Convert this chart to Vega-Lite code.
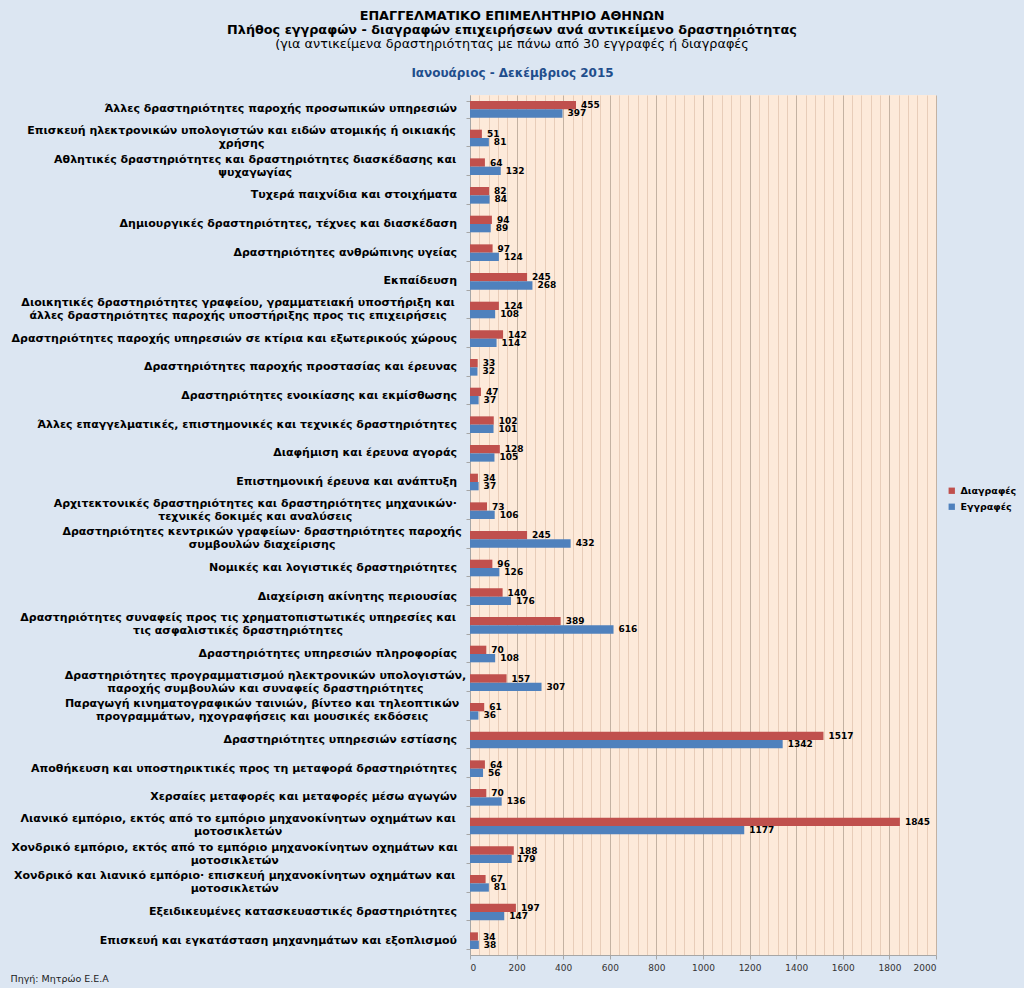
{
  "$schema": "https://vega.github.io/schema/vega-lite/v6.json",
  "width": 466,
  "height": 860,
  "autosize": {"type": "none"},
  "padding": {"left": 470, "top": 95, "right": 88, "bottom": 33},
  "background": "#dce6f2",
  "title": {
    "text": ["ΕΠΑΓΓΕΛΜΑΤΙΚΟ ΕΠΙΜΕΛΗΤΗΡΙΟ ΑΘΗΝΩΝ", "Πλήθος εγγραφών - διαγραφών επιχειρήσεων ανά αντικείμενο δραστηριότητας"],
    "subtitle": "(για αντικείμενα δραστηριότητας με πάνω από 30 εγγραφές ή διαγραφές",
    "anchor": "middle",
    "dx": -191,
    "offset": 15,
    "font": "DejaVu Sans",
    "fontSize": 12.8,
    "fontWeight": "bold",
    "color": "#000000",
    "lineHeight": 14.5,
    "subtitleFont": "DejaVu Sans",
    "subtitleFontSize": 12.8,
    "subtitleColor": "#000000",
    "subtitlePadding": 1
  },
  "config": {
    "view": {"fill": "#fdeada", "stroke": null}
  },
  "data": {
    "values": [
      {"cat": "Άλλες δραστηριότητες παροχής προσωπικών υπηρεσιών", "Διαγραφές": 455, "Εγγραφές": 397},
      {"cat": "Επισκευή ηλεκτρονικών υπολογιστών και ειδών ατομικής ή οικιακής|χρήσης", "Διαγραφές": 51, "Εγγραφές": 81},
      {"cat": "Αθλητικές δραστηριότητες και δραστηριότητες διασκέδασης και|ψυχαγωγίας", "Διαγραφές": 64, "Εγγραφές": 132},
      {"cat": "Τυχερά παιχνίδια και στοιχήματα", "Διαγραφές": 82, "Εγγραφές": 84},
      {"cat": "Δημιουργικές δραστηριότητες, τέχνες και διασκέδαση", "Διαγραφές": 94, "Εγγραφές": 89},
      {"cat": "Δραστηριότητες ανθρώπινης υγείας", "Διαγραφές": 97, "Εγγραφές": 124},
      {"cat": "Εκπαίδευση", "Διαγραφές": 245, "Εγγραφές": 268},
      {"cat": "Διοικητικές δραστηριότητες γραφείου, γραμματειακή υποστήριξη και|άλλες δραστηριότητες παροχής υποστήριξης προς τις επιχειρήσεις", "Διαγραφές": 124, "Εγγραφές": 108},
      {"cat": "Δραστηριότητες παροχής υπηρεσιών σε κτίρια και εξωτερικούς χώρους", "Διαγραφές": 142, "Εγγραφές": 114},
      {"cat": "Δραστηριότητες παροχής προστασίας και έρευνας", "Διαγραφές": 33, "Εγγραφές": 32},
      {"cat": "Δραστηριότητες ενοικίασης και εκμίσθωσης", "Διαγραφές": 47, "Εγγραφές": 37},
      {"cat": "Άλλες επαγγελματικές, επιστημονικές και τεχνικές δραστηριότητες", "Διαγραφές": 102, "Εγγραφές": 101},
      {"cat": "Διαφήμιση και έρευνα αγοράς", "Διαγραφές": 128, "Εγγραφές": 105},
      {"cat": "Επιστημονική έρευνα και ανάπτυξη", "Διαγραφές": 34, "Εγγραφές": 37},
      {"cat": "Αρχιτεκτονικές δραστηριότητες και δραστηριότητες μηχανικών·|τεχνικές δοκιμές και αναλύσεις", "Διαγραφές": 73, "Εγγραφές": 106},
      {"cat": "Δραστηριότητες κεντρικών γραφείων· δραστηριότητες παροχής|συμβουλών διαχείρισης", "Διαγραφές": 245, "Εγγραφές": 432},
      {"cat": "Νομικές και λογιστικές δραστηριότητες", "Διαγραφές": 96, "Εγγραφές": 126},
      {"cat": "Διαχείριση ακίνητης περιουσίας", "Διαγραφές": 140, "Εγγραφές": 176},
      {"cat": "Δραστηριότητες συναφείς προς τις χρηματοπιστωτικές υπηρεσίες και|τις ασφαλιστικές δραστηριότητες", "Διαγραφές": 389, "Εγγραφές": 616},
      {"cat": "Δραστηριότητες υπηρεσιών πληροφορίας", "Διαγραφές": 70, "Εγγραφές": 108},
      {"cat": "Δραστηριότητες προγραμματισμού ηλεκτρονικών υπολογιστών,|παροχής συμβουλών και συναφείς δραστηριότητες", "Διαγραφές": 157, "Εγγραφές": 307},
      {"cat": "Παραγωγή κινηματογραφικών ταινιών, βίντεο και τηλεοπτικών|προγραμμάτων, ηχογραφήσεις και μουσικές εκδόσεις", "Διαγραφές": 61, "Εγγραφές": 36},
      {"cat": "Δραστηριότητες υπηρεσιών εστίασης", "Διαγραφές": 1517, "Εγγραφές": 1342},
      {"cat": "Αποθήκευση και υποστηρικτικές προς τη μεταφορά δραστηριότητες", "Διαγραφές": 64, "Εγγραφές": 56},
      {"cat": "Χερσαίες μεταφορές και μεταφορές μέσω αγωγών", "Διαγραφές": 70, "Εγγραφές": 136},
      {"cat": "Λιανικό εμπόριο, εκτός από το εμπόριο μηχανοκίνητων οχημάτων και|μοτοσικλετών", "Διαγραφές": 1845, "Εγγραφές": 1177},
      {"cat": "Χονδρικό εμπόριο, εκτός από το εμπόριο μηχανοκίνητων οχημάτων και|μοτοσικλετών", "Διαγραφές": 188, "Εγγραφές": 179},
      {"cat": "Χονδρικό και λιανικό εμπόριο· επισκευή μηχανοκίνητων οχημάτων και|μοτοσικλετών", "Διαγραφές": 67, "Εγγραφές": 81},
      {"cat": "Εξειδικευμένες κατασκευαστικές δραστηριότητες", "Διαγραφές": 197, "Εγγραφές": 147},
      {"cat": "Επισκευή και εγκατάσταση μηχανημάτων και εξοπλισμού", "Διαγραφές": 34, "Εγγραφές": 38}
    ]
  },
  "transform": [
    {"fold": ["Διαγραφές", "Εγγραφές"], "as": ["series", "value"]}
  ],
  "encoding": {
    "y": {
      "field": "cat",
      "type": "nominal",
      "sort": null,
      "scale": {"paddingInner": 0.42, "paddingOuter": 0.21},
      "axis": {
        "title": null,
        "labels": false,
        "tickBand": "extent",
        "tickSize": 4,
        "tickColor": "#a6a6a6",
        "domainColor": "#a6a6a6",
        "grid": false
      }
    }
  },
  "resolve": {"axis": {"x": "independent"}},
  "layer": [
    {
      "mark": {"type": "bar"},
      "encoding": {
        "yOffset": {"field": "series", "type": "nominal", "scale": {"paddingInner": 0, "paddingOuter": 0}},
        "x": {
          "field": "value",
          "type": "quantitative",
          "scale": {"domain": [0, 2000], "nice": false},
          "axis": {
            "orient": "bottom",
            "values": [0, 200, 400, 600, 800, 1000, 1200, 1400, 1600, 1800, 2000],
            "labelExpr": "replace(datum.label, ',', '')",
            "grid": true,
            "gridColor": "#c4b2a2",
            "gridWidth": 1,
            "labelFont": "DejaVu Sans",
            "labelFontSize": 9,
            "labelColor": "#333333",
            "labelPadding": 4,
            "tickSize": 4,
            "tickColor": "#a6a6a6",
            "domainColor": "#a6a6a6",
            "title": "Πηγή: Μητρώο Ε.Ε.Α",
            "titleX": -460,
            "titleY": 23,
            "titleAlign": "left",
            "titleBaseline": "middle",
            "titleFont": "DejaVu Sans",
            "titleFontSize": 9.5,
            "titleFontWeight": "normal",
            "titleColor": "#1a1a1a"
          }
        },
        "color": {
          "field": "series",
          "type": "nominal",
          "scale": {"domain": ["Διαγραφές", "Εγγραφές"], "range": ["#c0504d", "#4f81bd"]},
          "legend": {
            "orient": "none",
            "legendX": 477,
            "legendY": 391,
            "title": null,
            "symbolType": "square",
            "symbolSize": 40,
            "symbolStrokeWidth": 0,
            "labelFont": "DejaVu Sans",
            "labelFontSize": 9.5,
            "labelFontWeight": "bold",
            "labelColor": "#000000",
            "rowPadding": 5
          }
        }
      }
    },
    {
      "mark": {"type": "text", "align": "left", "baseline": "middle", "dx": 5, "font": "DejaVu Sans", "fontSize": 9, "fontWeight": "bold", "color": "#000000"},
      "encoding": {
        "yOffset": {"field": "series", "type": "nominal", "scale": {"paddingInner": 0, "paddingOuter": 0}},
        "text": {"field": "value", "type": "quantitative"},
        "x": {
          "field": "value",
          "type": "quantitative",
          "scale": {"domain": [0, 2000], "nice": false},
          "axis": {
            "orient": "top",
            "values": [40, 80, 120, 160, 240, 280, 320, 360, 440, 480, 520, 560, 640, 680, 720, 760, 840, 880, 920, 960, 1040, 1080, 1120, 1160, 1240, 1280, 1320, 1360, 1440, 1480, 1520, 1560, 1640, 1680, 1720, 1760, 1840, 1880, 1920, 1960],
            "grid": true,
            "gridColor": "#e8cdb9",
            "gridWidth": 1,
            "labels": false,
            "ticks": false,
            "domain": false,
            "title": "Ιανουάριος - Δεκέμβριος 2015",
            "titleX": 42,
            "titleY": -23,
            "titleAlign": "center",
            "titleBaseline": "middle",
            "titleFont": "DejaVu Sans",
            "titleFontSize": 12,
            "titleFontWeight": "bold",
            "titleColor": "#1f4e8c"
          }
        }
      }
    },
    {
      "transform": [{"filter": "datum.series === 'Διαγραφές'"}],
      "mark": {
        "type": "text",
        "baseline": "middle",
        "lineBreak": "|",
        "lineHeight": 13,
        "font": "DejaVu Sans",
        "fontSize": 11,
        "fontWeight": "bold",
        "color": "#000000",
        "align": {"expr": "indexof(datum.cat, '|') >= 0 ? 'center' : 'right'"},
        "dx": {"expr": "indexof(datum.cat, '|') >= 0 ? -13 - indexof(datum.cat, '|') * 3.42 : -13"},
        "dy": {"expr": "indexof(datum.cat, '|') >= 0 ? -7 : 0"}
      },
      "encoding": {
        "text": {"field": "cat", "type": "nominal"},
        "x": {"datum": 0, "type": "quantitative", "scale": {"domain": [0, 2000], "nice": false}, "axis": null}
      }
    }
  ]
}
